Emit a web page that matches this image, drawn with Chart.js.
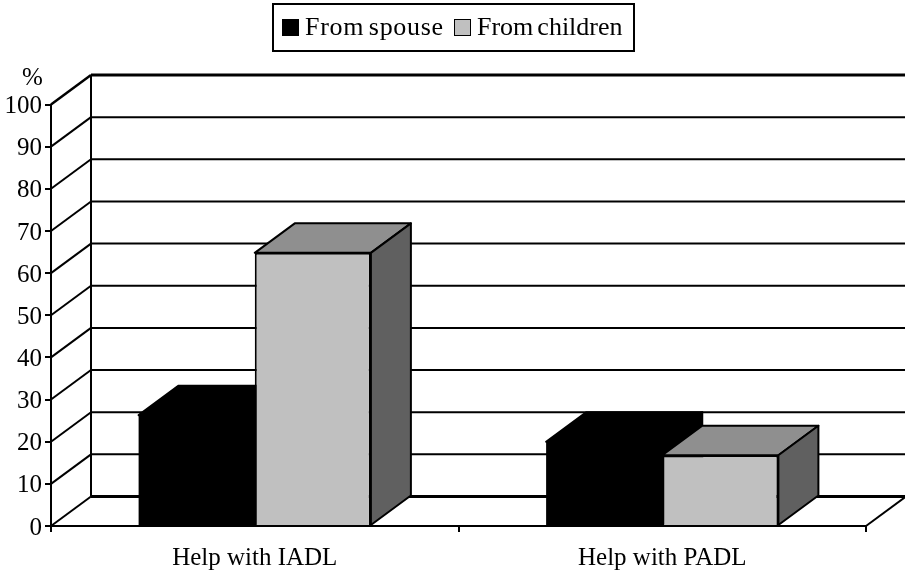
<!DOCTYPE html>
<html>
<head>
<meta charset="utf-8">
<style>
  html, body { margin: 0; padding: 0; background: #fff; }
  #quadro { position: relative; width: 905px; height: 571px; overflow: hidden; }
  #grafico { display: block; }
  #legenda {
    position: absolute; left: 272px; top: 3px; width: 359px; height: 45px;
    border: 2px solid #000; font: 26px "Liberation Serif", serif; color: #000;
  }
  #legenda span { position: absolute; top: 7px; white-space: nowrap; word-spacing: -2.5px; }
  #legenda i { position: absolute; top: 14px; width: 15px; height: 15px; border: 1px solid #000; }
</style>
</head>
<body>
<div id="quadro">
  <canvas id="grafico" width="905" height="571"></canvas>
  <div id="legenda"></div>
</div>
<script src="https://cdn.jsdelivr.net/npm/chart.js@4"></script>
<script>
const categorias = ['Help with IADL', 'Help with PADL'];
const fromSpouse = [26.3, 20];
const fromChildren = [64.8, 16.8];
const nomes = ['From spouse', 'From children'];
const ticksY = [0, 10, 20, 30, 40, 50, 60, 70, 80, 90, 100];

const FONTE = { family: "'Liberation Serif', serif", size: 25 };
const DX = 40, DY = 29.5; // profundidade do efeito 3D

// legenda em HTML: o espaçamento do original não dá para fazer com a do Chart.js
const cores = ['#000000', '#c0c0c0'];
const posCaixa = [8, 180];
const posTexto = [31, 203];
const espaco = ['0.7px', '0px'];
document.getElementById('legenda').innerHTML = nomes.map((n, i) =>
  `<i style="left:${posCaixa[i]}px;background:${cores[i]}"></i>` +
  `<span style="left:${posTexto[i]}px;letter-spacing:${espaco[i]}">${n}</span>`).join('');

function linha(ctx, x1, y1, x2, y2, w) {
  ctx.lineWidth = w;
  ctx.beginPath();
  ctx.moveTo(x1, y1);
  ctx.lineTo(x2, y2);
  ctx.stroke();
}

function poligono(ctx, pts, cor) {
  ctx.fillStyle = cor;
  ctx.beginPath();
  pts.forEach((p, i) => i ? ctx.lineTo(p[0], p[1]) : ctx.moveTo(p[0], p[1]));
  ctx.closePath();
  ctx.fill();
  ctx.stroke();
}

// paredes, chão e laterais das barras, tudo antes das faces da frente
const cena3d = {
  id: 'cena3d',
  beforeDatasetsDraw(chart) {
    const ctx = chart.ctx, a = chart.chartArea, sy = chart.scales.y;
    ctx.save();
    ctx.strokeStyle = '#000';
    ctx.lineJoin = 'round';
    ticksY.forEach(v => {
      const y = sy.getPixelForValue(v);
      const w = (v === 0 || v === 100) ? 3 : 2;
      linha(ctx, a.left, y, a.left + DX, y - DY, v === 100 ? 2.5 : 2);
      linha(ctx, a.left + DX, y - DY, a.right + DX, y - DY, w);
    });
    linha(ctx, a.left + DX, a.top - DY, a.left + DX, a.bottom - DY, 2);
    linha(ctx, a.right, a.bottom, a.right + DX, a.bottom - DY, 2);

    // extrusão: primeiro a série de trás, depois a da frente
    ctx.lineWidth = 2;
    [[0, '#000000', '#000000'], [1, '#8f8f8f', '#606060']].forEach(([ds, topo, lado]) => {
      chart.getDatasetMeta(ds).data.forEach(b => {
        const e = b.x - b.width / 2, d = b.x + b.width / 2;
        poligono(ctx, [[e, b.y], [e + DX, b.y - DY], [d + DX, b.y - DY], [d, b.y]], topo);
        poligono(ctx, [[d, b.y], [d + DX, b.y - DY], [d + DX, b.base - DY], [d, b.base]], lado);
      });
    });
    ctx.restore();
  },
  afterDraw(chart) {
    const ctx = chart.ctx;
    ctx.save();
    ctx.font = `${FONTE.size}px ${FONTE.family}`;
    ctx.fillStyle = '#000';
    ctx.textAlign = 'center';
    ctx.textBaseline = 'middle';
    ctx.fillText('%', 32.5, 78);
    ctx.restore();
  }
};

new Chart(document.getElementById('grafico'), {
  type: 'bar',
  data: {
    labels: categorias,
    datasets: [
      { label: nomes[0], data: fromSpouse, backgroundColor: cores[0], borderWidth: 0 },
      { label: nomes[1], data: fromChildren, backgroundColor: cores[1], borderColor: '#000', borderWidth: 2 }
    ]
  },
  plugins: [cena3d],
  options: {
    responsive: false,
    animation: false,
    layout: { padding: { top: 104.5, right: 39, left: 0, bottom: 0 } },
    datasets: { bar: { categoryPercentage: 0.57, barPercentage: 1 } },
    plugins: { legend: { display: false }, tooltip: { enabled: false } },
    scales: {
      x: {
        grid: { offset: true, drawOnChartArea: false, color: '#000', lineWidth: 2, tickLength: 6 },
        border: { color: '#000', width: 2 },
        ticks: { color: '#000', font: FONTE, padding: 11, maxRotation: 0 },
        afterFit(s) { s.height = 45; }
      },
      y: {
        min: 0, max: 100,
        grid: { drawOnChartArea: false, color: '#000', lineWidth: 2, tickLength: 6 },
        border: { color: '#000', width: 2 },
        ticks: { color: '#000', font: FONTE, padding: 3, stepSize: 10, labelOffset: 2 },
        afterFit(s) { s.width = 51; }
      }
    }
  }
});
</script>
</body>
</html>
